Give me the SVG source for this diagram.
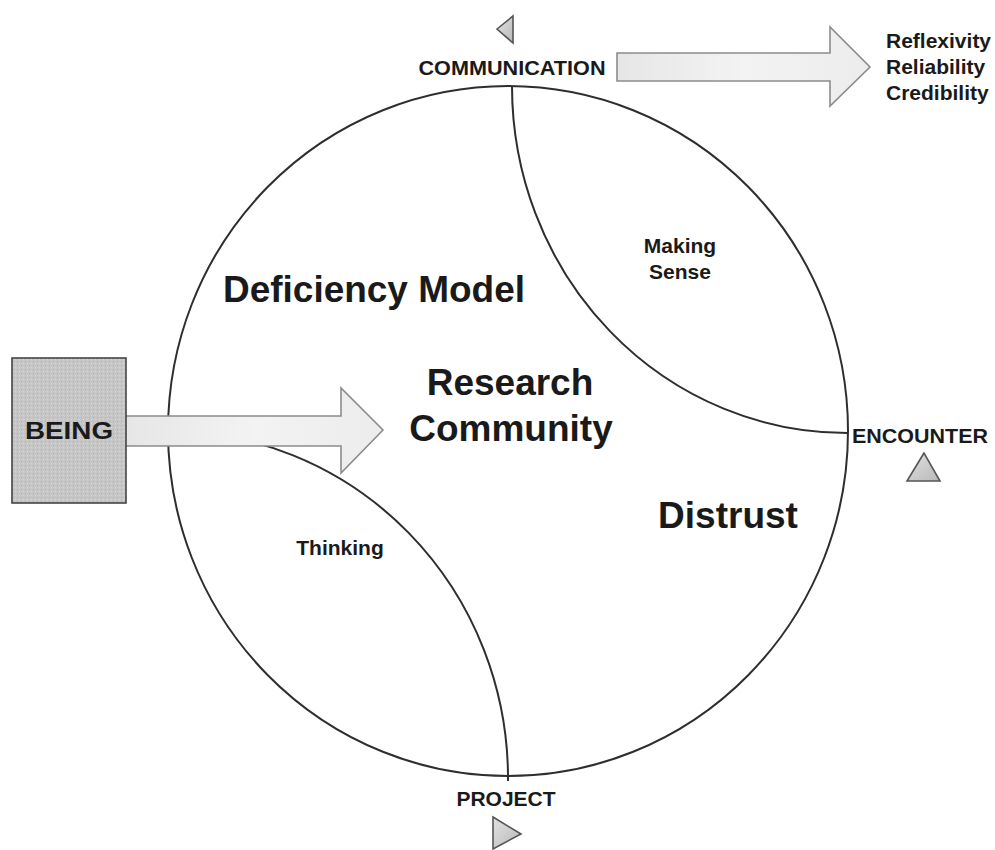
<svg xmlns="http://www.w3.org/2000/svg" width="995" height="850" viewBox="0 0 995 850">
<defs>
<linearGradient id="arrowFill" x1="0" y1="0" x2="1" y2="0">
<stop offset="0" stop-color="#e6e6e6"/>
<stop offset="0.5" stop-color="#f3f3f3"/>
<stop offset="1" stop-color="#ececec"/>
</linearGradient>
<linearGradient id="triFill" x1="0" y1="0" x2="1" y2="1">
<stop offset="0" stop-color="#e2e2e2"/>
<stop offset="1" stop-color="#b8b8b8"/>
</linearGradient>
<pattern id="dots" width="4" height="4" patternUnits="userSpaceOnUse">
<rect width="4" height="4" fill="#c6c6c6"/>
<rect x="1" y="1" width="1" height="1" fill="#b2b2b2"/>
<rect x="3" y="3" width="1" height="1" fill="#d8d8d8"/>
</pattern>
</defs>
<style>
.t{font-family:"Liberation Sans",Arial,sans-serif;font-weight:bold;fill:#1a1a1a}
.lbl{font-size:21px}
.big{font-size:37px}
.line{fill:none;stroke:#2e2e2e;stroke-width:2}
.arrow{fill:url(#arrowFill);stroke:#8c8c8c;stroke-width:1.6;stroke-linejoin:miter}
.tri{fill:url(#triFill);stroke:#555;stroke-width:1.6;stroke-linejoin:miter}
</style>
<rect width="995" height="850" fill="#ffffff"/>

<g id="circle">
<ellipse class="line" cx="508" cy="431" rx="340" ry="345"/>
</g>

<g id="connectors">
<path class="line" d="M 512 86 A 335 347 0 0 0 847 433"/>
<path class="line" d="M 168 431 A 340 347 0 0 1 508 778 L 508 781"/>
<path class="arrow" d="M 125 416 L 341 416 L 341 388 L 383 430 L 341 473 L 341 446 L 125 446 Z"/>
<path class="arrow" d="M 617 53 L 830 53 L 830 27 L 870 67 L 830 106 L 830 81 L 617 81 Z"/>
</g>

<g id="being">
<rect x="12" y="358" width="114" height="145" fill="url(#dots)" stroke="#444" stroke-width="1.6"/>
<text class="t" x="69" y="439" font-size="24" text-anchor="middle" textLength="88" lengthAdjust="spacingAndGlyphs">BEING</text>
</g>

<g id="communication">
<polygon class="tri" points="497,29 513,16 513,43"/>
<text class="t lbl" x="512" y="75" text-anchor="middle" textLength="187" lengthAdjust="spacingAndGlyphs">COMMUNICATION</text>
</g>

<g id="outcomes">
<text class="t lbl" x="886" y="48">Reflexivity</text>
<text class="t lbl" x="886" y="74">Reliability</text>
<text class="t lbl" x="886" y="100">Credibility</text>
</g>

<g id="encounter">
<text class="t lbl" x="920" y="443" text-anchor="middle" textLength="136" lengthAdjust="spacingAndGlyphs">ENCOUNTER</text>
<polygon class="tri" points="924,453 907,481 940,481"/>
</g>

<g id="project">
<text class="t lbl" x="506" y="806" text-anchor="middle">PROJECT</text>
<polygon class="tri" points="493,817 493,849 521,834"/>
</g>

<g id="deficiency-model">
<text class="t big" x="223" y="302" textLength="302" lengthAdjust="spacingAndGlyphs">Deficiency Model</text>
</g>

<g id="research-community">
<text class="t big" x="510" y="395" text-anchor="middle">Research</text>
<text class="t big" x="511" y="441" text-anchor="middle">Community</text>
</g>

<g id="distrust">
<text class="t big" x="728" y="528" text-anchor="middle">Distrust</text>
</g>

<g id="making-sense">
<text class="t lbl" x="680" y="253" text-anchor="middle">Making</text>
<text class="t lbl" x="680" y="279" text-anchor="middle">Sense</text>
</g>

<g id="thinking">
<text class="t lbl" x="340" y="555" text-anchor="middle">Thinking</text>
</g>
</svg>
